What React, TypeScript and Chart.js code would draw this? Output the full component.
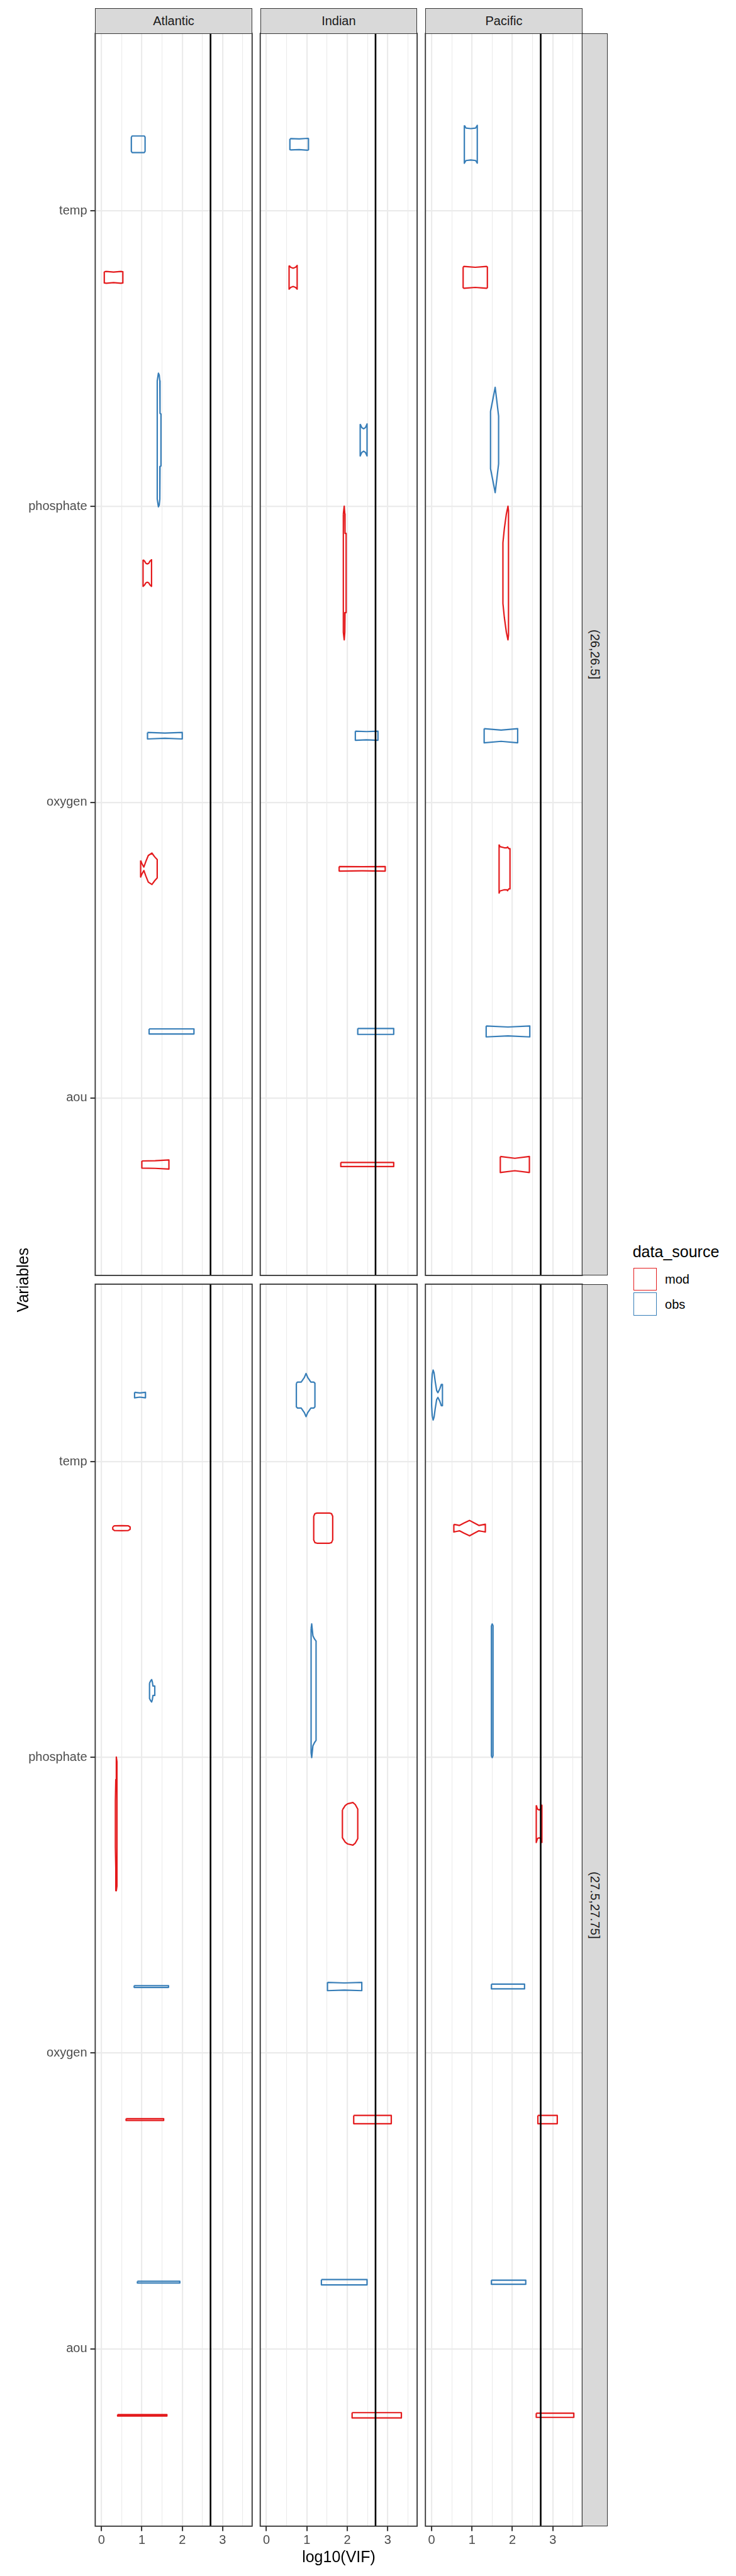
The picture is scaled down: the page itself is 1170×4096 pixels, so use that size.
import React, { useEffect, useRef } from 'react';
import { Chart, registerables } from 'chart.js';

Chart.register(...registerables);
Chart.defaults.font.family = '"Liberation Sans", Arial, Helvetica, sans-serif';

// ---------------- data ----------------
const oceans = ['Atlantic', 'Indian', 'Pacific'];
const densityBins = ['(26,26.5]', '(27.5,27.75]'];
const variables = ['aou', 'oxygen', 'phosphate', 'temp'];
const sources = ['mod', 'obs'];
const sourceColors = ['#E41A1C', '#377EB8'];
const xTickValues = [0, 0.5, 1, 1.5, 2, 2.5, 3, 3.5];
const xLabelValues = [0, 1, 2, 3];
const vifCutoffLog10 = 2.7;

type Profile = [number, number][]; // [log10(VIF), half width of violin]

// (26,26.5] Atlantic
const atl1AouMod: Profile = [[1.0, 0.012], [1.33, 0.013], [1.67, 0.0154]];
const atl1AouObs: Profile = [[1.18, 0.0086], [1.73, 0.0086], [2.29, 0.0086]];
const atl1OxyMod: Profile = [[0.97, 0.028], [1.0, 0.018], [1.05, 0.006], [1.1, 0.025], [1.16, 0.045], [1.25, 0.053], [1.32, 0.04], [1.38, 0.031]];
const atl1OxyObs: Profile = [[1.14, 0.011], [1.57, 0.0088], [2.0, 0.011]];
const atl1PhoMod: Profile = [[1.03, 0.045], [1.07, 0.04], [1.1, 0.033], [1.135, 0.031], [1.17, 0.033], [1.2, 0.04], [1.24, 0.045]];
const atl1PhoObs: Profile = [[1.381, 0.2], [1.41, 0.226], [1.43, 0.22], [1.445, 0.2], [1.45, 0.09], [1.473, 0.088]];
const atl1TempMod: Profile = [[0.07, 0.019], [0.12, 0.02], [0.3, 0.018], [0.48, 0.02], [0.53, 0.019]];
const atl1TempObs: Profile = [[0.74, 0.024], [0.76, 0.028], [1.06, 0.028], [1.08, 0.024]];

// (26,26.5] Indian
const ind1AouMod: Profile = [[1.84, 0.007], [2.5, 0.007], [3.15, 0.007]];
const ind1AouObs: Profile = [[2.26, 0.01], [2.7, 0.01], [3.15, 0.01]];
const ind1OxyMod: Profile = [[1.8, 0.0077], [2.37, 0.007], [2.94, 0.0077]];
const ind1OxyObs: Profile = [[2.2, 0.0154], [2.48, 0.014], [2.76, 0.0154]];
const ind1PhoMod: Profile = [[1.903, 0.2], [1.925, 0.226], [1.94, 0.2], [1.945, 0.134], [1.972, 0.134]];
const ind1PhoObs: Profile = [[2.32, 0.054], [2.36, 0.042], [2.405, 0.038], [2.45, 0.042], [2.49, 0.054]];
const ind1TempMod: Profile = [[0.56, 0.04], [0.6, 0.034], [0.66, 0.031], [0.72, 0.034], [0.76, 0.04]];
const ind1TempObs: Profile = [[0.58, 0.018], [0.6, 0.019], [0.81, 0.018], [1.02, 0.02], [1.04, 0.019]];

// (26,26.5] Pacific
const pac1AouMod: Profile = [[1.7, 0.027], [2.06, 0.021], [2.42, 0.027]];
const pac1AouObs: Profile = [[1.35, 0.0185], [1.89, 0.015], [2.43, 0.0185]];
const pac1OxyMod: Profile = [[1.67, 0.082], [1.69, 0.075], [1.8, 0.071], [1.86, 0.071], [1.88, 0.074], [1.91, 0.068], [1.94, 0.068]];
const pac1OxyObs: Profile = [[1.3, 0.024], [1.72, 0.019], [2.13, 0.024]];
const pac1PhoMod: Profile = [[1.765, 0.103], [1.8, 0.15], [1.85, 0.2], [1.89, 0.226], [1.903, 0.21]];
const pac1PhoObs: Profile = [[1.458, 0.097], [1.52, 0.14], [1.573, 0.178], [1.62, 0.125], [1.658, 0.081]];
const pac1TempMod: Profile = [[0.78, 0.035], [0.8, 0.037], [0.9, 0.036], [1.08, 0.034], [1.26, 0.036], [1.36, 0.037], [1.38, 0.035]];
const pac1TempObs: Profile = [[0.81, 0.064], [0.85, 0.055], [0.97, 0.053], [1.09, 0.055], [1.13, 0.064]];

// (27.5,27.75] Atlantic
const atl2AouMod: Profile = [[0.4, 0.0025], [1.01, 0.0025], [1.62, 0.0025]];
const atl2AouObs: Profile = [[0.89, 0.003], [1.42, 0.003], [1.94, 0.003]];
const atl2OxyMod: Profile = [[0.61, 0.003], [1.08, 0.003], [1.54, 0.003]];
const atl2OxyObs: Profile = [[0.81, 0.003], [1.24, 0.003], [1.66, 0.003]];
const atl2PhoMod: Profile = [[0.345, 0.078], [0.355, 0.15], [0.368, 0.226], [0.384, 0.21]];
const atl2PhoObs: Profile = [[1.19, 0.026], [1.22, 0.034], [1.243, 0.038], [1.26, 0.03], [1.275, 0.016], [1.32, 0.016]];
const atl2TempMod: Profile = [[0.28, 0.004], [0.32, 0.008], [0.5, 0.0085], [0.66, 0.008], [0.71, 0.004]];
const atl2TempObs: Profile = [[0.82, 0.0093], [0.95, 0.007], [1.09, 0.0093]];

// (27.5,27.75] Indian
const ind2AouMod: Profile = [[2.12, 0.009], [2.73, 0.009], [3.34, 0.009]];
const ind2AouObs: Profile = [[1.36, 0.009], [1.92, 0.009], [2.49, 0.009]];
const ind2OxyMod: Profile = [[2.16, 0.014], [2.62, 0.014], [3.09, 0.014]];
const ind2OxyObs: Profile = [[1.51, 0.014], [1.93, 0.012], [2.36, 0.014]];
const ind2PhoMod: Profile = [[1.88, 0.047], [1.95, 0.062], [2.01, 0.068], [2.14, 0.072], [2.2, 0.065], [2.26, 0.05]];
const ind2PhoObs: Profile = [[1.105, 0.21], [1.12, 0.226], [1.15, 0.186], [1.19, 0.175], [1.228, 0.168]];
const ind2TempMod: Profile = [[1.17, 0.04], [1.2, 0.049], [1.25, 0.051], [1.56, 0.051], [1.61, 0.049], [1.64, 0.04]];
const ind2TempObs: Profile = [[0.74, 0.04], [0.77, 0.044], [0.86, 0.044], [0.94, 0.06], [0.98, 0.073], [1.02, 0.06], [1.1, 0.044], [1.17, 0.044], [1.2, 0.04]];

// (27.5,27.75] Pacific
const pac2AouMod: Profile = [[2.59, 0.007], [3.05, 0.007], [3.52, 0.007]];
const pac2AouObs: Profile = [[1.48, 0.007], [1.9, 0.007], [2.33, 0.007]];
const pac2OxyMod: Profile = [[2.63, 0.014], [2.87, 0.014], [3.11, 0.014]];
const pac2OxyObs: Profile = [[1.48, 0.008], [1.89, 0.008], [2.3, 0.008]];
const pac2PhoMod: Profile = [[2.59, 0.063], [2.62, 0.05], [2.66, 0.047], [2.7, 0.05], [2.73, 0.063]];
const pac2PhoObs: Profile = [[1.48, 0.22], [1.5, 0.226], [1.52, 0.22]];
const pac2TempMod: Profile = [[0.55, 0.013], [0.62, 0.011], [0.69, 0.009], [0.8, 0.017], [0.94, 0.026], [1.06, 0.017], [1.17, 0.009], [1.25, 0.011], [1.33, 0.013]];
const pac2TempObs: Profile = [[0.0, 0.035], [0.015, 0.07], [0.038, 0.0845], [0.06, 0.075], [0.09, 0.045], [0.125, 0.015], [0.155, 0.008], [0.2, 0.02], [0.24, 0.036], [0.268, 0.036]];

// [bin][ocean][variable][source]
const violinTable: Profile[][][][] = [
  [
    [[atl1AouMod, atl1AouObs], [atl1OxyMod, atl1OxyObs], [atl1PhoMod, atl1PhoObs], [atl1TempMod, atl1TempObs]],
    [[ind1AouMod, ind1AouObs], [ind1OxyMod, ind1OxyObs], [ind1PhoMod, ind1PhoObs], [ind1TempMod, ind1TempObs]],
    [[pac1AouMod, pac1AouObs], [pac1OxyMod, pac1OxyObs], [pac1PhoMod, pac1PhoObs], [pac1TempMod, pac1TempObs]],
  ],
  [
    [[atl2AouMod, atl2AouObs], [atl2OxyMod, atl2OxyObs], [atl2PhoMod, atl2PhoObs], [atl2TempMod, atl2TempObs]],
    [[ind2AouMod, ind2AouObs], [ind2OxyMod, ind2OxyObs], [ind2PhoMod, ind2PhoObs], [ind2TempMod, ind2TempObs]],
    [[pac2AouMod, pac2AouObs], [pac2OxyMod, pac2OxyObs], [pac2PhoMod, pac2PhoObs], [pac2TempMod, pac2TempObs]],
  ],
];

// ---------------- layout (reference px, scaled by S) ----------------
const S = 0.87;
const PANEL_LEFT = [174, 475.5, 777.3];
const PANEL_W = 286.7;
const ROW_TOP = [61, 2347];
const PANEL_H = 2270;
const X_MIN = -0.154;
const X_MAX = 3.73;
const Y_MIN = 0.4;
const Y_MAX = 4.6;
const DODGE = 0.225;

const SMALL_FONT = 20;
const TITLE_FONT = 25;
const LINE = 2.2;
const GRID_MAJOR = 2.2;
const GRID_MINOR = 1.1;
const DARK = '#333333';
const FONT = '"Liberation Sans", Arial, Helvetica, sans-serif';

function violinPolygon(profile: Profile, center: number) {
  const upper = profile.map(([x, w]) => ({ x, y: center + w }));
  const lower = profile.slice().reverse().map(([x, w]) => ({ x, y: center - w }));
  return [...upper, ...lower, upper[0]];
}

const panelBorder = {
  id: 'panelBorder',
  afterDraw(chart: any) {
    const { ctx, chartArea } = chart;
    ctx.save();
    ctx.strokeStyle = DARK;
    ctx.lineWidth = 1.8;
    ctx.strokeRect(chartArea.left, chartArea.top, chartArea.right - chartArea.left, chartArea.bottom - chartArea.top);
    ctx.restore();
  },
};

function Panel({ row, col }: { row: number; col: number }) {
  const ref = useRef<HTMLCanvasElement>(null);
  const pad = 4;
  const isLeft = col === 0;
  const isBottom = row === densityBins.length - 1;
  const pl = PANEL_LEFT[col] * S;
  const pr = (PANEL_LEFT[col] + PANEL_W) * S;
  const pt = ROW_TOP[row] * S;
  const pb = (ROW_TOP[row] + PANEL_H) * S;
  const left = isLeft ? 0 : Math.floor(pl - pad);
  const right = Math.ceil(pr + pad);
  const top = Math.floor(pt - pad);
  const bottom = isBottom ? Math.ceil(pb + 48) : Math.ceil(pb + pad);
  const width = right - left;
  const height = bottom - top;

  useEffect(() => {
    const datasets: any[] = [];
    violinTable[row][col].forEach((pair, vi) => {
      pair.forEach((profile, si) => {
        const center = vi + 1 + (si === 0 ? -DODGE : DODGE);
        datasets.push({
          label: `${variables[vi]} ${sources[si]}`,
          data: violinPolygon(profile, center),
          showLine: true,
          borderColor: sourceColors[si],
          borderWidth: LINE,
          borderJoinStyle: 'round',
          pointRadius: 0,
          fill: false,
          tension: 0,
        });
      });
    });
    datasets.push({
      label: 'cutoff',
      data: [{ x: vifCutoffLog10, y: Y_MIN }, { x: vifCutoffLog10, y: Y_MAX }],
      showLine: true,
      borderColor: '#000000',
      borderWidth: 2.6,
      pointRadius: 0,
      fill: false,
      order: -1,
    });

    const chart = new Chart(ref.current as HTMLCanvasElement, {
      type: 'scatter',
      data: { datasets },
      plugins: [panelBorder],
      options: {
        animation: false,
        responsive: false,
        maintainAspectRatio: false,
        devicePixelRatio: 1,
        events: [],
        layout: {
          padding: {
            left: isLeft ? 0 : pl - left,
            right: right - pr,
            top: pt - top,
            bottom: isBottom ? 0 : bottom - pb,
          },
        },
        plugins: { legend: { display: false }, tooltip: { enabled: false }, title: { display: false } },
        scales: {
          x: {
            type: 'linear',
            position: 'bottom',
            min: X_MIN,
            max: X_MAX,
            afterBuildTicks: (s: any) => {
              s.ticks = xTickValues.map((v) => ({ value: v }));
            },
            afterFit: (s: any) => {
              s.height = isBottom ? bottom - pb : 0;
              s.paddingLeft = 0;
              s.paddingRight = 0;
              s.paddingTop = 0;
              s.paddingBottom = 0;
            },
            border: { display: false },
            grid: {
              color: '#EBEBEB',
              lineWidth: (c: any) => (xLabelValues.includes(c.tick?.value) ? GRID_MAJOR : GRID_MINOR),
              drawTicks: isBottom,
              tickLength: 7.8,
              tickWidth: 2,
              tickColor: (c: any) => (xLabelValues.includes(c.tick?.value) ? DARK : 'rgba(0,0,0,0)'),
            },
            ticks: {
              display: isBottom,
              autoSkip: false,
              maxRotation: 0,
              minRotation: 0,
              padding: 3,
              color: '#4D4D4D',
              font: { size: SMALL_FONT, family: FONT },
              callback: (v: any) => (xLabelValues.includes(Number(v)) ? String(v) : ''),
            },
          },
          y: {
            type: 'linear',
            position: 'left',
            min: Y_MIN,
            max: Y_MAX,
            afterBuildTicks: (s: any) => {
              s.ticks = variables.map((_, i) => ({ value: i + 1 }));
            },
            afterFit: (s: any) => {
              s.width = isLeft ? pl : 0;
              s.paddingLeft = 0;
              s.paddingRight = 0;
              s.paddingTop = 0;
              s.paddingBottom = 0;
            },
            border: { display: false },
            grid: {
              color: '#EBEBEB',
              lineWidth: GRID_MAJOR,
              drawTicks: isLeft,
              tickLength: 7.8,
              tickWidth: 2,
              tickColor: DARK,
            },
            ticks: {
              display: isLeft,
              autoSkip: false,
              padding: 5,
              color: '#4D4D4D',
              font: { size: SMALL_FONT, family: FONT },
              callback: (v: any) => variables[Number(v) - 1] ?? '',
            },
          },
        },
      } as any,
    });
    return () => chart.destroy();
  }, []);

  return (
    <canvas
      ref={ref}
      width={width}
      height={height}
      style={{ position: 'absolute', left, top, width, height }}
    />
  );
}

export default function App() {
  const stripTop = 15 * S;
  const stripH = 46 * S;
  const stripRightX = (PANEL_LEFT[2] + PANEL_W) * S;
  const stripRightW = 46 * S;
  const panelsLeft = PANEL_LEFT[0] * S;
  const panelsRight = (PANEL_LEFT[2] + PANEL_W) * S;
  const panelsTop = ROW_TOP[0] * S;
  const panelsBottom = (ROW_TOP[1] + PANEL_H) * S;

  return (
    <div
      style={{
        position: 'absolute',
        left: 0,
        top: 0,
        width: 1170,
        height: 4096,
        background: '#ffffff',
        overflow: 'hidden',
        fontFamily: FONT,
      }}
    >
      {densityBins.map((_, r) =>
        oceans.map((_, c) => <Panel key={`${r}-${c}`} row={r} col={c} />)
      )}

      {oceans.map((name, c) => (
        <div
          key={name}
          style={{
            position: 'absolute',
            left: PANEL_LEFT[c] * S,
            top: stripTop,
            width: PANEL_W * S,
            height: stripH,
            boxSizing: 'border-box',
            background: '#D9D9D9',
            border: `1.8px solid ${DARK}`,
            borderBottom: 'none',
            display: 'flex',
            alignItems: 'center',
            justifyContent: 'center',
            fontSize: SMALL_FONT,
            color: '#1A1A1A',
          }}
        >
          {name}
        </div>
      ))}

      {densityBins.map((name, r) => (
        <div
          key={name}
          style={{
            position: 'absolute',
            left: stripRightX,
            top: ROW_TOP[r] * S,
            width: stripRightW,
            height: PANEL_H * S,
            boxSizing: 'border-box',
            background: '#D9D9D9',
            border: `1.8px solid ${DARK}`,
            borderLeft: 'none',
            display: 'flex',
            alignItems: 'center',
            justifyContent: 'center',
            fontSize: SMALL_FONT,
            color: '#1A1A1A',
          }}
        >
          <span style={{ writingMode: 'vertical-rl', whiteSpace: 'nowrap' }}>{name}</span>
        </div>
      ))}

      <div
        style={{
          position: 'absolute',
          left: panelsLeft,
          width: panelsRight - panelsLeft,
          top: 4672 * S - TITLE_FONT * 0.6,
          height: TITLE_FONT * 1.2,
          lineHeight: `${TITLE_FONT * 1.2}px`,
          textAlign: 'center',
          fontSize: TITLE_FONT,
          color: '#000000',
        }}
      >
        log10(VIF)
      </div>

      <div
        style={{
          position: 'absolute',
          left: 42 * S - TITLE_FONT * 0.6,
          top: panelsTop,
          height: panelsBottom - panelsTop,
          width: TITLE_FONT * 1.2,
          display: 'flex',
          alignItems: 'center',
          justifyContent: 'center',
          fontSize: TITLE_FONT,
          color: '#000000',
        }}
      >
        <span style={{ writingMode: 'vertical-rl', transform: 'rotate(180deg)', whiteSpace: 'nowrap' }}>Variables</span>
      </div>

      <div style={{ position: 'absolute', left: 1156 * S, top: 2287 * S - TITLE_FONT * 0.6, fontSize: TITLE_FONT, lineHeight: `${TITLE_FONT * 1.2}px`, color: '#000000', whiteSpace: 'nowrap' }}>
        data_source
      </div>
      {sources.map((s, i) => (
        <React.Fragment key={s}>
          <div
            style={{
              position: 'absolute',
              left: 1157 * S,
              top: (2317 + i * 45.5) * S,
              width: 43 * S,
              height: 42 * S,
              boxSizing: 'border-box',
              border: `${2 * S}px solid ${sourceColors[i]}`,
              background: '#ffffff',
            }}
          />
          <div
            style={{
              position: 'absolute',
              left: 1215 * S,
              top: (2338 + i * 45.5) * S - SMALL_FONT * 0.6,
              fontSize: SMALL_FONT,
              lineHeight: `${SMALL_FONT * 1.2}px`,
              color: '#000000',
            }}
          >
            {s}
          </div>
        </React.Fragment>
      ))}
    </div>
  );
}
